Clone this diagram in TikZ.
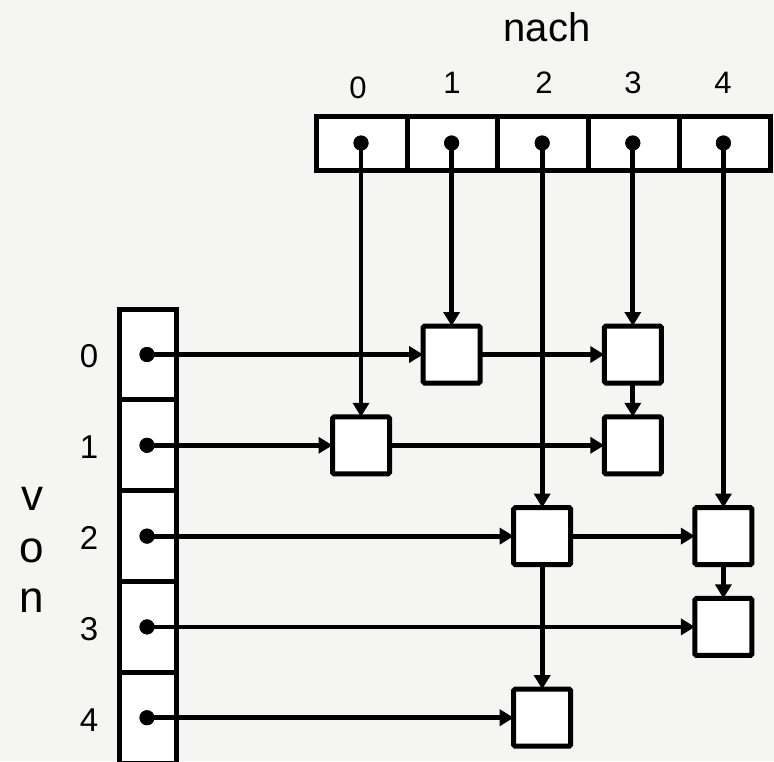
\documentclass[tikz,border=0pt]{standalone}
\usepackage{fontspec}
\setmainfont{Liberation Sans}
\usetikzlibrary{arrows.meta}
\definecolor{paper}{RGB}{245,245,243}
\begin{document}
\begin{tikzpicture}[x=1pt,y=-1pt,
  entry/.style={draw,line width=5pt,fill=white,minimum width=57pt,
    minimum height=57pt,inner sep=0pt,outer sep=0pt,rounded corners=1.5pt},
  headcell/.style={draw,line width=5pt,fill=white,minimum width=90.7pt,
    minimum height=54pt,inner sep=0pt,outer sep=0pt},
  rowcell/.style={draw,line width=5pt,fill=white,minimum width=57pt,
    minimum height=90.8pt,inner sep=0pt,outer sep=0pt},
  ptr/.style={circle,fill=black,minimum size=15pt,inner sep=0pt,outer sep=0pt},
  conn/.style={line width=4.8pt,-{Triangle[length=14pt,width=16pt]}},
  idx/.style={font=\fontsize{31}{36}\selectfont,inner sep=0pt},
  rowidx/.style={font=\fontsize{33}{38}\selectfont,inner sep=0pt},
  title/.style={font=\fontsize{40}{46}\selectfont,inner sep=0pt},
  vtitle/.style={font=\fontsize{44}{50}\selectfont,inner sep=0pt}]

\clip (0,0) rectangle (774,761);
\fill[paper] (0,0) rectangle (774,761);

% head array "nach"
\foreach \k in {0,...,4} {
  \node[headcell] (h\k) at ({316.5+90.7*(\k+0.5)},143.5) {};
}
% head array "von"
\foreach \k in {0,...,4} {
  \node[rowcell] (r\k) at (148,{354.5+90.8*\k}) {};
}

% labels
\node[title] (nach) at (547,27) {nach};
\node[idx] (c0) at (358,88) {0};
\node[idx] (c1) at (452,83) {1};
\node[idx] (c2) at (544,83) {2};
\node[idx] (c3) at (633,83) {3};
\node[idx] (c4) at (723,83) {4};
\foreach \k in {0,...,4} {
  \node[rowidx] (l\k) at (89,{356.5+90.8*\k}) {\k};
}
\node[vtitle] (v1) at (32,499) {v};
\node[vtitle] (v2) at (32,551) {o};
\node[vtitle] (v3) at (32,601) {n};

% pointer dots
\foreach \k in {0,...,4} {
  \node[ptr] (tp\k) at ({361+90.6*\k},143) {};
  \node[ptr] (rp\k) at (147,{354.5+90.8*\k}) {};
}

% matrix entries (row, column)
\node[entry] (e01) at ({361+90.6*1},{354.5+90.8*0}) {};
\node[entry] (e03) at ({361+90.6*3},{354.5+90.8*0}) {};
\node[entry] (e10) at ({361+90.6*0},{354.5+90.8*1}) {};
\node[entry] (e13) at ({361+90.6*3},{354.5+90.8*1}) {};
\node[entry] (e22) at ({361+90.6*2},{354.5+90.8*2}) {};
\node[entry] (e24) at ({361+90.6*4},{354.5+90.8*2}) {};
\node[entry] (e34) at ({361+90.6*4},{354.5+90.8*3}) {};
\node[entry] (e42) at ({361+90.6*2},{354.5+90.8*4}) {};

% row lists
\draw[conn] (rp0.center) -- (e01.west);
\draw[conn] (e01.east) -- (e03.west);
\draw[conn] (rp1.center) -- (e10.west);
\draw[conn] (e10.east) -- (e13.west);
\draw[conn] (rp2.center) -- (e22.west);
\draw[conn] (e22.east) -- (e24.west);
\draw[conn] (rp3.center) -- (e34.west);
\draw[conn] (rp4.center) -- (e42.west);

% column lists
\draw[conn] (tp0.center) -- (e10.north);
\draw[conn] (tp1.center) -- (e01.north);
\draw[conn] (tp2.center) -- (e22.north);
\draw[conn] (e22.south) -- (e42.north);
\draw[conn] (tp3.center) -- (e03.north);
\draw[conn] (e03.south) -- (e13.north);
\draw[conn] (tp4.center) -- (e24.north);
\draw[conn] (e24.south) -- (e34.north);

% dots above the line starts
\foreach \k in {0,...,4} {
  \node[ptr] at (tp\k) {};
  \node[ptr] at (rp\k) {};
}
\end{tikzpicture}
\end{document}
